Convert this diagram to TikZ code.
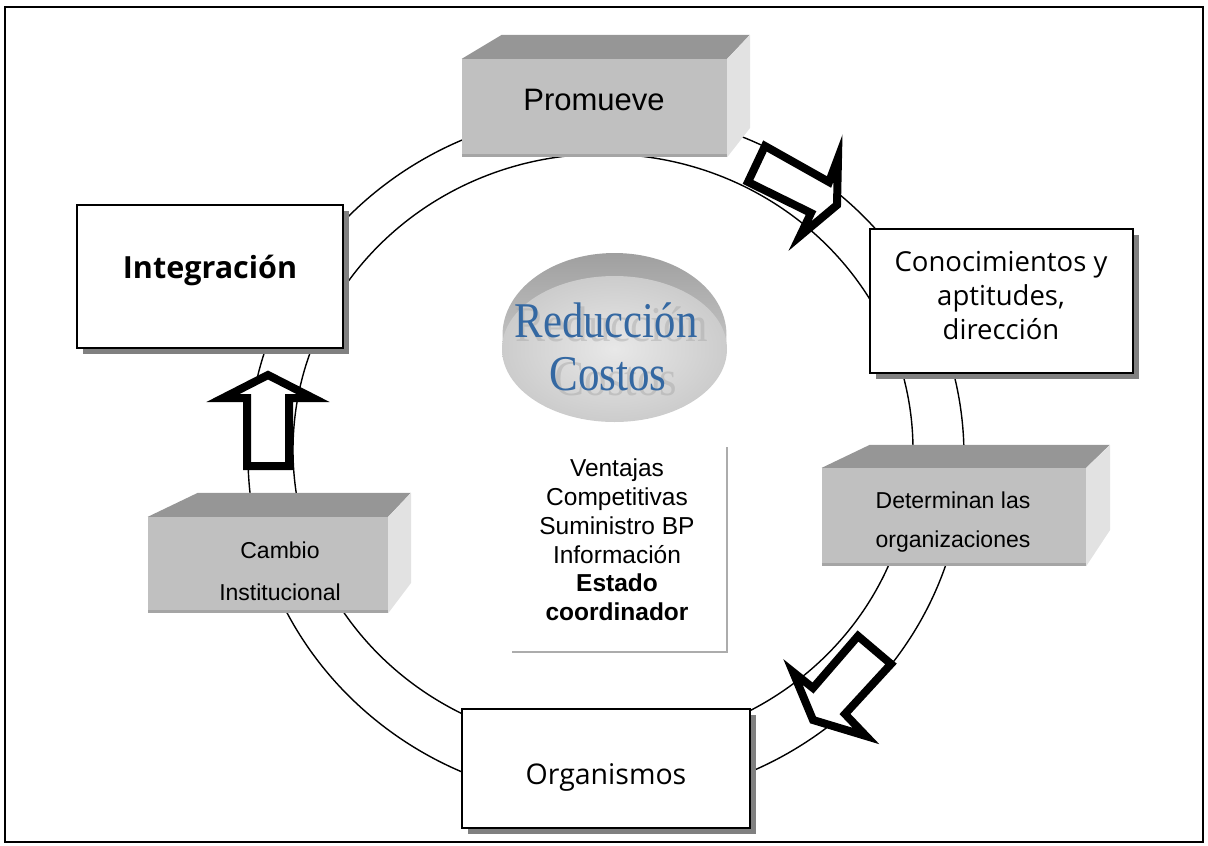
\documentclass[tikz,border=0pt]{standalone}
\usepackage{fontspec}
\setmainfont{Liberation Sans}
\newfontfamily\humfont{Open Sans}
\newfontfamily\serfont{Liberation Serif}
\usetikzlibrary{shadows}
\definecolor{frontgray}{RGB}{192,192,192}
\definecolor{topgray}{RGB}{150,150,150}
\definecolor{sidegray}{RGB}{226,226,226}
\definecolor{edgegray}{RGB}{165,165,165}
\definecolor{rcblue}{RGB}{52,104,162}
\definecolor{shadowgray}{RGB}{128,128,128}
\begin{document}
\begin{tikzpicture}[x=1pt,y=-1pt]
\useasboundingbox (0,0) rectangle (1208,846);
\tikzset{
  ring/.style={line width=1.4},
  wbox/.style={draw=black, line width=2.5, fill=white, inner sep=0pt,
    drop shadow={shadow xshift=6pt, shadow yshift=-6pt, fill=shadowgray, opacity=1}},
  front3d/.style={fill=frontgray, inner sep=0pt},
  top3d/.style={fill=topgray},
  side3d/.style={fill=sidegray},
  blockarrow/.style={draw=black, fill=white, line width=8, line join=miter, miter limit=10},
  txtbox/.style={inner sep=0pt, align=center},
}
% frame
\draw[line width=2.5] (5,7) rectangle (1203,842);
% rings
\draw[ring] (606,456) ellipse [x radius=358, y radius=345];
\draw[ring] (603,450) ellipse [x radius=310, y radius=296];

% ---- 3D box: Promueve
\node[front3d, minimum width=265, minimum height=98] (prom) at (594.5,108) {};
\fill[top3d] (prom.north west) -- ++(40,-24) -- ++(248,0) -- (prom.north east) -- cycle;
\fill[side3d] (prom.north east) -- ++(23,-24) -- ++(0,93) -- (prom.south east) -- cycle;
\draw[edgegray, line width=3] ([yshift=1.5]prom.south west) -- ([yshift=1.5]prom.south east);
\node[txtbox, font=\fontsize{31}{36}\selectfont] (promT) at (594,100) {Promueve};

% ---- 3D box: Cambio Institucional
\node[front3d, minimum width=240, minimum height=96] (camb) at (268,565) {};
\fill[top3d] (camb.north west) -- ++(50,-24) -- ++(213,0) -- (camb.north east) -- cycle;
\fill[side3d] (camb.north east) -- ++(23,-24) -- ++(0,90) -- (camb.south east) -- cycle;
\draw[edgegray, line width=3] ([yshift=1.5]camb.south west) -- ([yshift=1.5]camb.south east);
\node[txtbox, font=\fontsize{23}{42}\selectfont] (cambT) at (280,571) {Cambio\\Institucional};

% ---- 3D box: Determinan las organizaciones
\node[front3d, minimum width=264, minimum height=98] (det) at (954,517) {};
\fill[top3d] (det.north west) -- ++(48,-23) -- ++(240,0) -- (det.north east) -- cycle;
\fill[side3d] (det.north east) -- ++(24,-23) -- ++(0,85) -- (det.south east) -- cycle;
\draw[edgegray, line width=3] ([yshift=1.5]det.south west) -- ([yshift=1.5]det.south east);
\node[txtbox, font=\fontsize{23}{39}\selectfont] (detT) at (953,522.5) {Determinan las\\organizaciones};

% ---- white boxes
\node[wbox, minimum width=266, minimum height=143] (integ) at (210,276.5) {};
\node[txtbox, font=\humfont\bfseries\fontsize{30.5}{36}\selectfont] (integT) at (210,270) {Integración};

\node[wbox, minimum width=263, minimum height=144] (conoc) at (1001.5,301) {};
\node[txtbox, font=\humfont\fontsize{27.5}{34}\selectfont] (conocT) at (1001,296) {Conocimientos y\\aptitudes,\\dirección};

\node[wbox, minimum width=288, minimum height=119] (org) at (606,768.5) {};
\node[txtbox, font=\humfont\fontsize{28.5}{34}\selectfont] (orgT) at (606,777) {Organismos};

% ---- block arrows
\draw[blockarrow] (765,146) -- (829,182) -- (838,158) -- (837,205) -- (800,236) -- (811,213) -- (748,182) -- cycle;
\draw[blockarrow] (858,636) -- (891,664) -- (845,714) -- (866,736) -- (813,720) -- (793,672) -- (813,688) -- cycle;
\draw[blockarrow] (247,466) -- (247,398) -- (223,398) -- (268,375) -- (313,398) -- (289,398) -- (289,466) -- cycle;

% ---- disc Reducción Costos
\shade[top color=gray!75, bottom color=gray!25] (614.5,335) ellipse [x radius=112, y radius=82];
\shade[inner color=gray!18, outer color=gray!40] (614.5,349) ellipse [x radius=112.5, y radius=73];
\node[anchor=base, inner sep=0pt, text=gray!70, opacity=0.45, font=\serfont\fontsize{50}{56}\selectfont] (redS) at (612,341) {\scalebox{0.9}[1]{Reducción}};
\node[anchor=base, inner sep=0pt, text=gray!70, opacity=0.45, font=\serfont\fontsize{50}{56}\selectfont] (cosS) at (616,395) {\scalebox{0.9}[1]{Costos}};
\node[anchor=base, inner sep=0pt, text=rcblue, font=\serfont\fontsize{50}{56}\selectfont] (red) at (606,337) {\scalebox{0.855}[1]{Reducción}};
\node[anchor=base, inner sep=0pt, text=rcblue, font=\serfont\fontsize{50}{56}\selectfont] (cos) at (608,390) {\scalebox{0.86}[1]{Costos}};

% ---- centre text block
\node[txtbox, font=\fontsize{24.5}{28.8}\selectfont] (ctr) at (617,540) {Ventajas\\Competitivas\\Suministro BP\\Información\\\textbf{Estado}\\\textbf{coordinador}};
\coordinate (cbl) at (512,652);
\coordinate (cbr) at (727,652);
\coordinate (ctr2) at (727,447);
\draw[gray!65, line width=1.5] (cbl) -- (cbr) -- (ctr2);
\end{tikzpicture}
\end{document}
